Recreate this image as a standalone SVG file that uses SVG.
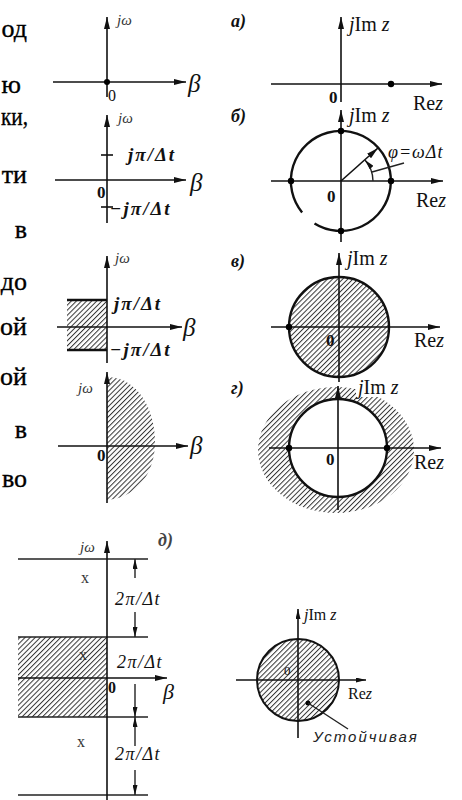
<svg xmlns="http://www.w3.org/2000/svg" width="462" height="800" viewBox="0 0 462 800">
<defs>
<style>
.ax{stroke:#111;stroke-width:1.6;fill:none}
.tk{stroke:#111;stroke-width:2.4;fill:none}
.ln{stroke:#222;stroke-width:1.4;fill:none}
.t{font-family:"Liberation Serif","Times New Roman",serif;fill:#111}
.body{font-family:"Liberation Serif","Times New Roman",serif;font-size:26px;fill:#000;stroke:#000;stroke-width:0.35;text-anchor:end}
.it{font-style:italic}
.b{font-weight:bold}
.lab{font-size:20px}
.sm{font-size:15px;fill:#333}
.beta{font-size:25px;font-style:italic}
.pi{font-size:19px;font-style:italic;font-weight:bold;letter-spacing:2px}
.pan{font-size:18px;font-style:italic;font-weight:bold}
.dim{font-size:18px;font-style:italic;letter-spacing:1.5px}
.dot{fill:#000}
</style>
<marker id="ah" viewBox="0 0 12 6" refX="12" refY="3" markerWidth="12" markerHeight="6" markerUnits="userSpaceOnUse" orient="auto"><path d="M0,0 L12,3 L0,6 Z" fill="#111"/></marker>
<marker id="ahs" viewBox="0 0 10 5" refX="10" refY="2.5" markerWidth="10" markerHeight="5" markerUnits="userSpaceOnUse" orient="auto"><path d="M0,0 L10,2.5 L0,5 Z" fill="#111"/></marker>
<pattern id="hatch" width="3.6" height="3.6" patternUnits="userSpaceOnUse" patternTransform="rotate(45)"><line x1="0.5" y1="0" x2="0.5" y2="3.6" stroke="#333" stroke-width="1"/></pattern>
</defs>
<rect width="462" height="800" fill="#fff"/>

<g id="text-column" class="body">
<text x="27" y="37">од</text>
<text x="21" y="93">ю</text>
<text x="28" y="125" textLength="27" lengthAdjust="spacingAndGlyphs">ки,</text>
<text x="27" y="183">ти</text>
<text x="27" y="238">в</text>
<text x="27" y="290">до</text>
<text x="27" y="335">ой</text>
<text x="27" y="385">ой</text>
<text x="27" y="438">в</text>
<text x="27" y="487">во</text>
</g>

<g id="panel-a-left">
<line class="ax" x1="107" y1="97" x2="107" y2="17" marker-end="url(#ah)"/>
<line class="ax" x1="53" y1="82" x2="186" y2="82" marker-end="url(#ah)"/>
<circle class="dot" cx="107" cy="82" r="3"/>
<text class="t it sm" x="117" y="25">jω</text>
<text class="t lab" x="108" y="101" style="font-size:16px">0</text>
<text class="t beta" x="188" y="92">β</text>
</g>

<g id="panel-b-left">
<line class="ax" x1="107" y1="223" x2="107" y2="115" marker-end="url(#ah)"/>
<line class="ax" x1="101" y1="155" x2="113" y2="155"/>
<line class="ax" x1="101" y1="207" x2="113" y2="207"/>
<line class="ax" x1="55" y1="180" x2="186" y2="180" marker-end="url(#ah)"/>
<text class="t it sm" x="118" y="123">jω</text>
<text class="t pi" x="128" y="161">jπ/Δt</text>
<text class="t pi" x="110" y="215">−jπ/Δt</text>
<text class="t b" x="97" y="198" style="font-size:17px">0</text>
<text class="t beta" x="190" y="191">β</text>
</g>

<g id="panel-v-left">
<rect x="67" y="300" width="40" height="50" fill="url(#hatch)"/>
<line class="tk" x1="67" y1="300" x2="107" y2="300"/>
<line class="tk" x1="67" y1="350" x2="107" y2="350"/>
<line class="ax" x1="107" y1="363" x2="107" y2="256" marker-end="url(#ah)"/>
<line class="ax" x1="57" y1="327" x2="182" y2="327" marker-end="url(#ah)"/>
<text class="t it sm" x="115" y="263">jω</text>
<text class="t pi" x="114" y="310">jπ/Δt</text>
<text class="t pi" x="110" y="356">−jπ/Δt</text>
<text class="t beta" x="183" y="336">β</text>
</g>

<g id="panel-g-left">
<path d="M107,377 C138,377 155,410 155,442 C155,474 136,498 107,500 Z" fill="url(#hatch)"/>
<line class="ax" x1="107" y1="503" x2="107" y2="372" marker-end="url(#ah)"/>
<line class="ax" x1="58" y1="446" x2="188" y2="446" marker-end="url(#ah)"/>
<text class="t it sm" x="78" y="393">jω</text>
<text class="t b" x="97" y="461" style="font-size:17px">0</text>
<text class="t beta" x="190" y="454">β</text>
</g>

<g id="panel-d-left">
<rect x="18" y="637" width="89" height="80" fill="url(#hatch)"/>
<line class="ln" x1="18" y1="559" x2="148" y2="559"/>
<line class="ln" x1="18" y1="637" x2="148" y2="637"/>
<line class="ln" x1="18" y1="717" x2="148" y2="717"/>
<line class="ln" x1="18" y1="795" x2="148" y2="795"/>
<line class="ax" x1="18" y1="678" x2="167" y2="678" marker-end="url(#ah)"/>
<line class="ax" x1="107" y1="800" x2="107" y2="541" marker-end="url(#ah)"/>
<text class="t it sm" x="80" y="552">jω</text>
<text class="t pan" x="158" y="546" style="fill:#444">д)</text>
<text class="t sm" x="81" y="583" style="font-size:16px">x</text>
<text class="t sm" x="79" y="660" style="font-size:16px">x</text>
<text class="t sm" x="77" y="747" style="font-size:16px">x</text>
<text class="t b" x="108" y="693" style="font-size:16px">0</text>
<text class="t beta" x="163" y="699" style="font-size:22px">β</text>
<line class="ln" x1="135" y1="578" x2="135" y2="559" marker-end="url(#ahs)"/>
<line class="ln" x1="135" y1="612" x2="135" y2="637" marker-end="url(#ahs)"/>
<line class="ln" x1="135" y1="684" x2="135" y2="717" marker-end="url(#ahs)"/>
<line class="ln" x1="135" y1="746" x2="135" y2="717" marker-end="url(#ahs)"/>
<line class="ln" x1="135" y1="770" x2="135" y2="795" marker-end="url(#ahs)"/>
<text class="t dim" x="115" y="605">2π/Δt</text>
<text class="t dim" x="117" y="668">2π/Δt</text>
<text class="t dim" x="115" y="760">2π/Δt</text>
</g>

<g id="panel-a-right">
<text class="t pan" x="231" y="27">а)</text>
<line class="ax" x1="341" y1="102" x2="341" y2="17" marker-end="url(#ah)"/>
<line class="ax" x1="271" y1="84" x2="442" y2="84" marker-end="url(#ah)"/>
<circle class="dot" cx="391" cy="84" r="3.2"/>
<text class="t lab" x="349" y="31"><tspan class="it">j</tspan>Im <tspan class="it">z</tspan></text>
<text class="t b" x="329" y="103" style="font-size:17px">0</text>
<text class="t lab" x="413" y="110">Re<tspan class="it">z</tspan></text>
</g>

<g id="panel-b-right">
<text class="t pan" x="231" y="122">б)</text>
<path class="tk" d="M302.1,212.5 A50,50 0 1,1 314.5,223.4"/>
<line class="ax" x1="341" y1="242" x2="341" y2="110" marker-end="url(#ah)"/>
<line class="ax" x1="271" y1="181" x2="443" y2="181" marker-end="url(#ah)"/>
<circle class="dot" cx="291" cy="181" r="3.2"/>
<circle class="dot" cx="391" cy="181" r="3.2"/>
<circle class="dot" cx="341" cy="131" r="3.2"/>
<circle class="dot" cx="341" cy="231" r="3.2"/>
<line class="ax" x1="341" y1="181" x2="378" y2="148" marker-end="url(#ah)"/>
<path class="ln" d="M373,181 A32,32 0 0,0 365,160" marker-end="url(#ahs)"/>
<line class="ln" x1="372" y1="172" x2="404" y2="163"/>
<text class="t it" x="388" y="158" style="font-size:18px;letter-spacing:1px">φ=ωΔt</text>
<text class="t lab" x="349" y="122"><tspan class="it">j</tspan>Im <tspan class="it">z</tspan></text>
<text class="t b" x="327" y="202" style="font-size:17px">0</text>
<text class="t lab" x="416" y="207">Re<tspan class="it">z</tspan></text>
</g>

<g id="panel-v-right">
<text class="t pan" x="231" y="267">в)</text>
<circle cx="339" cy="327" r="50" class="tk" style="fill:url(#hatch)"/>
<line class="ax" x1="339" y1="382" x2="339" y2="253" marker-end="url(#ah)"/>
<line class="ax" x1="271" y1="327" x2="440" y2="327" marker-end="url(#ah)"/>
<circle class="dot" cx="289" cy="327" r="3.2"/>
<text class="t lab" x="347" y="265"><tspan class="it">j</tspan>Im <tspan class="it">z</tspan></text>
<text class="t b" x="326" y="346" style="font-size:17px">0</text>
<text class="t lab" x="414" y="347">Re<tspan class="it">z</tspan></text>
</g>

<g id="panel-g-right">
<text class="t pan" x="231" y="394">г)</text>
<ellipse cx="336" cy="450" rx="78" ry="63" fill="url(#hatch)"/>
<rect x="356" y="380" width="50" height="17" fill="#fff"/>
<circle cx="338" cy="448" r="49" class="tk" style="fill:#fff"/>
<line class="ax" x1="338" y1="510" x2="338" y2="386" marker-end="url(#ah)"/>
<line class="ax" x1="269" y1="448" x2="441" y2="448" marker-end="url(#ah)"/>
<circle class="dot" cx="289" cy="448" r="3.2"/>
<circle class="dot" cx="387" cy="448" r="3.2"/>
<text class="t lab" x="358" y="394"><tspan class="it">j</tspan>Im <tspan class="it">z</tspan></text>
<text class="t b" x="326" y="465" style="font-size:17px">0</text>
<text class="t lab" x="414" y="469">Re<tspan class="it">z</tspan></text>
</g>

<g id="panel-d-right">
<circle cx="298" cy="680" r="41" class="tk" style="fill:url(#hatch);stroke-width:2"/>
<line class="ax" x1="298" y1="738" x2="298" y2="609" marker-end="url(#ahs)"/>
<line class="ax" x1="236" y1="680" x2="366" y2="680" marker-end="url(#ahs)"/>
<circle class="dot" cx="308" cy="703" r="2.5"/>
<line class="ln" x1="308" y1="703" x2="348" y2="729"/>
<text class="t" x="304" y="620" style="font-size:16px"><tspan class="it">j</tspan>Im <tspan class="it">z</tspan></text>
<text class="t" x="284" y="675" style="font-size:13px">0</text>
<text class="t" x="348" y="699" style="font-size:16px">Re<tspan class="it">z</tspan></text>
<text x="313" y="742" style="font-family:'Liberation Sans',Arial,sans-serif;font-size:15px;font-style:italic;letter-spacing:2px;fill:#222">Устойчивая</text>
</g>
</svg>
